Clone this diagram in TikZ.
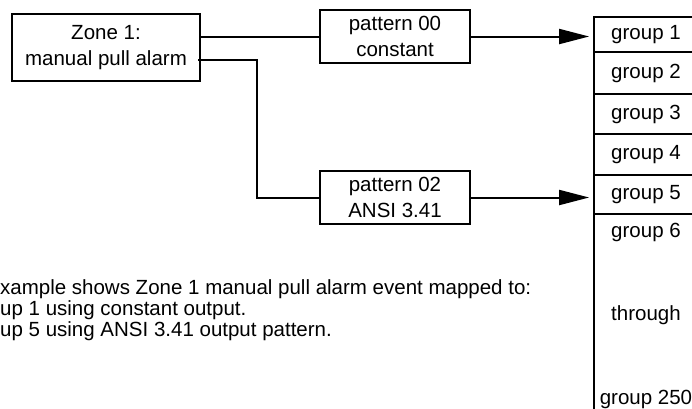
\documentclass[tikz,border=0pt]{standalone}
\usepackage{fontspec}
\setmainfont{Liberation Sans}
\usetikzlibrary{arrows.meta,positioning,calc}
\newcommand{\fsz}{\fontsize{20.5}{25.5}\selectfont}
\tikzset{
  zbox/.style={draw, line width=2pt, align=center, inner sep=0pt, font=\fsz},
  cell/.style={draw, line width=1.8pt, minimum width=104pt, inner sep=0pt, font=\fsz},
  wire/.style={line width=2pt},
  warr/.style={-{Triangle[length=30pt,width=15pt]}, line width=2pt, shorten >=4pt},
  ltxt/.style={anchor=base west, inner sep=0pt, font=\fsz},
}

\begin{document}
\begin{tikzpicture}[x=1pt, y=-1pt]
\useasboundingbox (0,0) rectangle (692,408);
\clip (0,0) rectangle (692,408);
% ---- zone and output patterns
\node[zbox, minimum width=188pt, minimum height=67pt] (zone) at (106,47.5)
  {Zone 1:\\manual pull alarm};
\node[zbox, minimum width=150pt, minimum height=53pt] (p00) at (395,36.5)
  {pattern 00\\constant};
\node[zbox, minimum width=150pt, minimum height=53pt] (p02) at (395,197.5)
  {pattern 02\\ANSI 3.41};
% ---- notification groups
\foreach \n/\y/\h in {1/34.5/35, 2/73/42, 3/114/40, 4/154.5/41, 5/194.5/39}
  \node[cell, minimum height=\h pt] (g\n) at (646,\y) {group \n};
\node[cell, minimum height=226pt] (grest) at (646,327) {};
\node[font=\fsz] (g6) at (646,232) {group 6};
\node[font=\fsz] (gthru) at (646,315) {through};
\node[font=\fsz] (g250) at (646,399) {group 250};
% ---- mapping
\draw[wire] (p00.west -| zone.east) -- (p00.west);
\draw[wire] ($(zone.south east)+(-3,-22)$) -- ++(59,0) |- (p02.west);
\draw[warr] (p00.east) -- (p00.east -| g1.west);
\draw[warr] (p02.east) -- (p02.east -| g5.west);
% ---- note
\node[ltxt] (note1) at (0,294) {xample shows Zone 1 manual pull alarm event mapped to:};
\node[ltxt] (note2) at (0,315) {up 1 using constant output.};
\node[ltxt] (note3) at (0,336) {up 5 using ANSI 3.41 output pattern.};
\end{tikzpicture}
\end{document}
